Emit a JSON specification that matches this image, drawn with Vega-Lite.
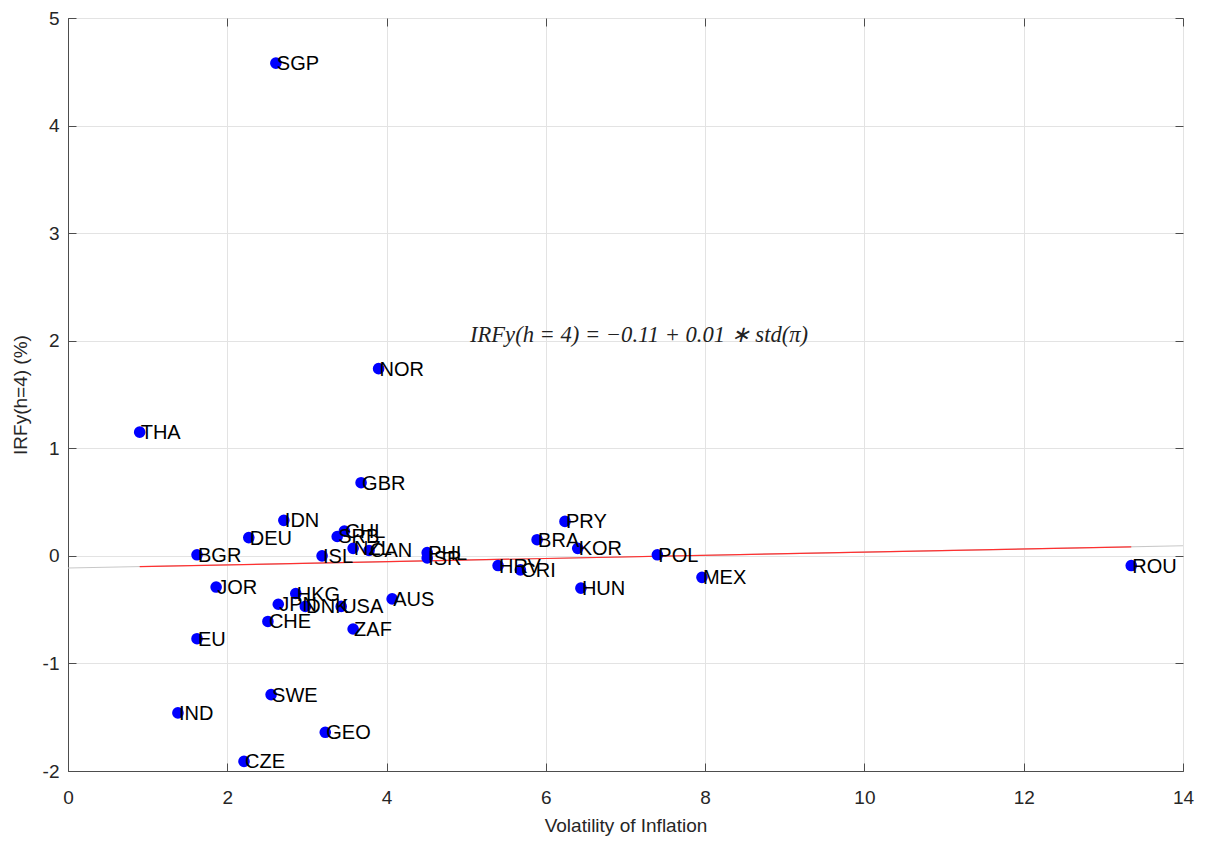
{
  "$schema": "https://vega.github.io/schema/vega-lite/v6.json",
  "width": 1115,
  "height": 753,
  "padding": {"left": 68, "top": 18, "right": 31, "bottom": 70},
  "autosize": "none",
  "background": "white",
  "config": {
    "font": "Liberation Sans",
    "view": {"stroke": "#4d4d4d", "strokeWidth": 1},
    "axis": {
      "gridColor": "#e3e3e3",
      "domainColor": "#4d4d4d",
      "tickColor": "#4d4d4d",
      "tickSize": -8,
      "labelFlush": false,
      "labelFont": "Liberation Sans",
      "labelFontSize": 19,
      "labelColor": "#262626",
      "titleFont": "Liberation Sans",
      "titleFontSize": 19,
      "titleFontWeight": "normal",
      "titleColor": "#262626"
    }
  },
  "datasets": {
    "pts": [
      {"country": "SGP", "vol": 2.61, "irf": 4.58},
      {"country": "NOR", "vol": 3.90, "irf": 1.74},
      {"country": "THA", "vol": 0.90, "irf": 1.15},
      {"country": "GBR", "vol": 3.68, "irf": 0.68},
      {"country": "IDN", "vol": 2.71, "irf": 0.33},
      {"country": "DEU", "vol": 2.27, "irf": 0.17},
      {"country": "BGR", "vol": 1.62, "irf": 0.01},
      {"country": "CHL", "vol": 3.47, "irf": 0.23},
      {"country": "SRB", "vol": 3.38, "irf": 0.18},
      {"country": "NZL", "vol": 3.58, "irf": 0.07},
      {"country": "CAN", "vol": 3.78, "irf": 0.05},
      {"country": "ISL", "vol": 3.19, "irf": 0.00},
      {"country": "PHL", "vol": 4.51, "irf": 0.03},
      {"country": "ISR", "vol": 4.51, "irf": -0.02},
      {"country": "HRV", "vol": 5.40, "irf": -0.09},
      {"country": "CRI", "vol": 5.68, "irf": -0.13},
      {"country": "BRA", "vol": 5.89, "irf": 0.15},
      {"country": "PRY", "vol": 6.24, "irf": 0.32},
      {"country": "KOR", "vol": 6.40, "irf": 0.07},
      {"country": "POL", "vol": 7.40, "irf": 0.01},
      {"country": "HUN", "vol": 6.44, "irf": -0.30},
      {"country": "MEX", "vol": 7.96, "irf": -0.20},
      {"country": "ROU", "vol": 13.35, "irf": -0.09},
      {"country": "JOR", "vol": 1.86, "irf": -0.29},
      {"country": "HKG", "vol": 2.86, "irf": -0.35},
      {"country": "JPN", "vol": 2.64, "irf": -0.45},
      {"country": "DNK", "vol": 2.98, "irf": -0.47},
      {"country": "USA", "vol": 3.43, "irf": -0.47},
      {"country": "AUS", "vol": 4.07, "irf": -0.40},
      {"country": "CHE", "vol": 2.51, "irf": -0.61},
      {"country": "ZAF", "vol": 3.58, "irf": -0.68},
      {"country": "EU", "vol": 1.62, "irf": -0.77},
      {"country": "SWE", "vol": 2.55, "irf": -1.29},
      {"country": "IND", "vol": 1.38, "irf": -1.46},
      {"country": "GEO", "vol": 3.23, "irf": -1.64},
      {"country": "CZE", "vol": 2.21, "irf": -1.91}
    ],
    "fit": [
      {"line": "full", "vol": 0, "irf": -0.113},
      {"line": "full", "vol": 14, "irf": 0.094},
      {"line": "data", "vol": 0.90, "irf": -0.100},
      {"line": "data", "vol": 13.35, "irf": 0.084}
    ],
    "eq": [
      {"label": "IRFy(h = 4) = −0.11 + 0.01 ∗ std(π)", "vol": 7.17, "irf": 2.05}
    ]
  },
  "resolve": {"axis": {"x": "independent", "y": "independent"}},
  "layer": [
    {
      "encoding": {
        "x": {"field": "vol", "type": "quantitative", "scale": {"domain": [0, 14], "nice": false, "zero": false},
              "axis": {"title": "Volatility of Inflation", "values": [0,2,4,6,8,10,12,14], "labelExpr": "toString(datum.value)", "labelPadding": 25, "titlePadding": 9}},
        "y": {"field": "irf", "type": "quantitative", "scale": {"domain": [-2, 5], "nice": false, "zero": false},
              "axis": {"title": "IRFy(h=4) (%)", "values": [-2,-1,0,1,2,3,4,5], "labelExpr": "toString(datum.value)", "labelPadding": 17, "titlePadding": 12}}
      },
      "layer": [
        {
          "data": {"name": "fit"},
          "transform": [{"filter": "datum.line === 'full'"}],
          "mark": {"type": "line", "color": "#c8c8c8", "strokeWidth": 1.2},
          "encoding": {}
        },
        {
          "data": {"name": "fit"},
          "transform": [{"filter": "datum.line === 'data'"}],
          "mark": {"type": "line", "color": "#ff3030", "strokeWidth": 1.2},
          "encoding": {}
        },
        {
          "data": {"name": "pts"},
          "mark": {"type": "circle", "color": "#0000ff", "opacity": 1, "size": 135},
          "encoding": {}
        },
        {
          "data": {"name": "pts"},
          "mark": {"type": "text", "align": "left", "baseline": "middle", "dx": 1, "dy": 1, "fontSize": 20, "font": "Liberation Sans", "color": "#000000"},
          "encoding": {"text": {"field": "country"}}
        },
        {
          "data": {"name": "eq"},
          "mark": {"type": "text", "align": "center", "baseline": "middle", "fontSize": 22.6, "font": "Liberation Serif", "fontStyle": "italic", "color": "#222222"},
          "encoding": {"text": {"field": "label"}}
        }
      ]
    },
    {
      "data": {"name": "pts"},
      "mark": {"type": "circle", "opacity": 0},
      "encoding": {
        "x": {"field": "vol", "type": "quantitative",
              "axis": {"orient": "top", "title": null, "labels": false, "grid": false, "domain": false, "values": [0,2,4,6,8,10,12,14]}},
        "y": {"field": "irf", "type": "quantitative",
              "axis": {"orient": "right", "title": null, "labels": false, "grid": false, "domain": false, "values": [-2,-1,0,1,2,3,4,5]}}
      }
    }
  ]
}
